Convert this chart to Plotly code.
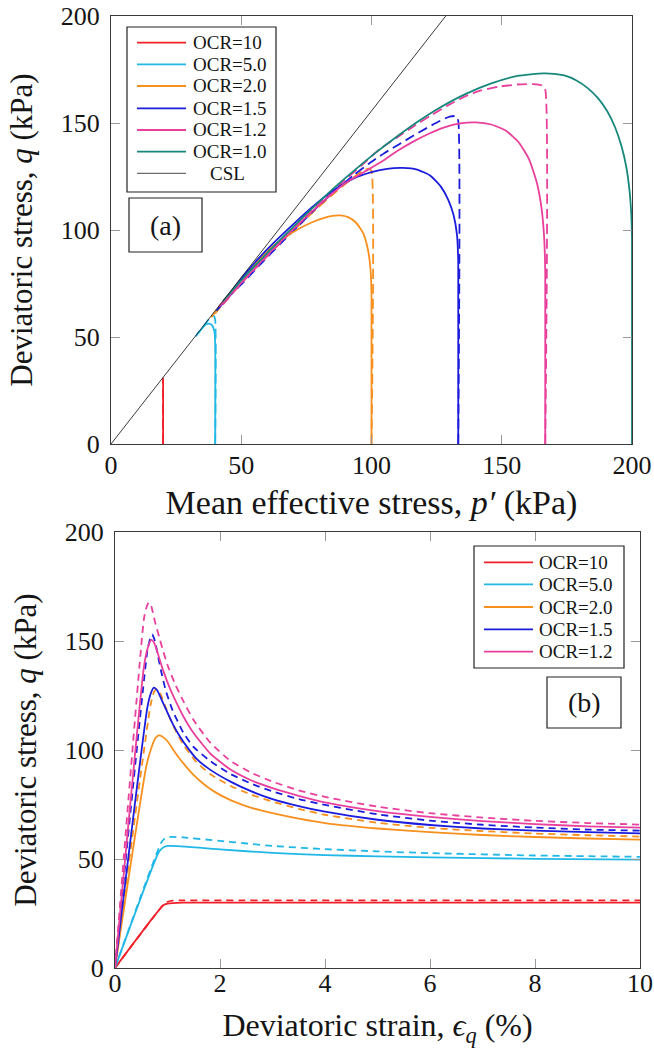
import plotly.graph_objects as go

# ---------------- data: panel (a) stress paths  (p' , q) in kPa ----------------
ocr_labels = ["OCR=10", "OCR=5.0", "OCR=2.0", "OCR=1.5", "OCR=1.2", "OCR=1.0"]
ocr_colors = ["#f0202a", "#21b8e8", "#f7901e", "#1c1cdc", "#e8409c", "#17877b"]

csl_p = [0, 128.5]
csl_q = [0, 200]

a_ocr10_solid_p = [20, 20]
a_ocr10_solid_q = [0, 30]
a_ocr10_dash_p = [20, 20]
a_ocr10_dash_q = [0, 31]

a_ocr5_solid_p = [40, 40, 39.7, 38.9, 37.7, 36.4, 34.5, 32.5]
a_ocr5_solid_q = [0, 47, 52.5, 55.3, 56.2, 55.8, 53.3, 50.2]
a_ocr5_dash_p = [40, 40, 39.5, 38.7, 37, 35, 33]
a_ocr5_dash_q = [0, 58, 59.8, 60, 57.4, 54.3, 51.2]

a_ocr2_solid_p = [100, 100, 99.6, 98.6, 96.8, 94, 91, 88, 85, 81.5, 77, 72, 66, 59, 52, 46, 41.5, 38.5]
a_ocr2_solid_q = [0, 70, 82, 91, 98.5, 103.5, 106, 106.8, 106.6, 105.5, 103.5, 100.5, 96, 89, 79.5, 70.5, 63.8, 59.2]
a_ocr2_dash_p = [100, 100, 99, 96.5, 92, 86, 79, 72, 65, 58, 51, 45, 40]
a_ocr2_dash_q = [0, 127.5, 128.7, 127.5, 123.5, 117.5, 110, 102, 94, 85.5, 76.5, 68.5, 61]

a_ocr15_solid_p = [133.3, 133.3, 132.8, 131.5, 129.5, 126.5, 122.5, 117.5, 112, 106, 100, 93, 86, 79, 72, 65, 58, 51, 45, 40.5]
a_ocr15_solid_q = [0, 85, 98, 107, 114, 120.5, 125.5, 128.2, 129, 128.6, 127, 124, 119, 112.5, 105, 97, 88.5, 78.8, 69.3, 62.3]
a_ocr15_dash_p = [133.3, 133.3, 132.5, 130, 126, 121, 116, 110.5, 105, 99, 93, 86, 79, 72, 65, 58, 51, 45, 41]
a_ocr15_dash_q = [0, 151, 153.2, 153, 150.8, 147.5, 144, 140, 136, 131, 125.5, 118.3, 110.5, 102, 93.5, 84.8, 75.8, 68.5, 63]

a_ocr12_solid_p = [166.7, 166.7, 166.3, 165.3, 163.5, 160.5, 156.5, 151.5, 146, 140, 134, 128, 122, 116, 110, 104, 97, 90, 83, 76, 69, 62, 55, 49, 44, 41.5]
a_ocr12_solid_q = [0, 80, 96, 110, 122, 133, 141, 146.5, 149.3, 150.3, 149.8, 148, 145, 141.3, 137, 132, 127, 122, 115, 107.3, 99.3, 90.8, 82, 74, 67.5, 64.3]
a_ocr12_dash_p = [166.7, 166.7, 165.5, 162, 156, 149, 142, 135.5, 129, 122.5, 116, 109.5, 103, 96, 89, 82, 75, 68, 61, 54, 48, 43]
a_ocr12_dash_q = [0, 165.5, 167.5, 168.2, 168, 167, 165.2, 162.2, 158, 153.3, 148.3, 143, 137.6, 130, 122.5, 114.7, 106.5, 97.8, 89, 80.3, 72.2, 65.2]

a_ocr1_solid_p = [200, 200, 199.7, 199, 197.8, 196, 193.5, 190.5, 187, 183, 178.5, 174, 170, 166, 156, 146, 136, 126, 117, 109, 102, 95, 85, 75, 65, 55, 48, 43]
a_ocr1_solid_q = [0, 96, 108, 119, 129.5, 139, 148, 155.5, 161.5, 166.3, 170, 172.2, 173, 173.2, 172, 168.5, 163.5, 157, 150, 143, 136.5, 129.5, 119, 107.5, 95.5, 83, 73.8, 66.8]

# ---------------- data: panel (b) q vs deviatoric strain (%) ----------------
b_ocr10_solid_e = [0, 0.92, 1.0, 1.1, 1.3, 10]
b_ocr10_solid_q = [0, 28.8, 29.5, 29.8, 30, 30]
b_ocr10_dash_e = [0, 0.95, 1.02, 1.1, 1.3, 10]
b_ocr10_dash_q = [0, 29.7, 30.5, 30.9, 31, 31]

b_ocr5_solid_e = [0, 0.82, 0.9, 1.0, 1.2, 1.6, 2, 3, 4, 5, 6, 8, 10]
b_ocr5_solid_q = [0, 52.5, 55, 56, 55.9, 55.2, 54.4, 52.8, 51.8, 51.2, 50.7, 50.1, 49.7]
b_ocr5_dash_e = [0, 0.88, 0.95, 1.05, 1.3, 2, 3, 4, 5, 6, 8, 10]
b_ocr5_dash_q = [0, 57.5, 59.5, 60.1, 59.9, 58.3, 56, 54.5, 53.5, 52.7, 51.6, 51]

b_ocr2_solid_e = [0, 0.6, 0.7, 0.77, 0.83, 0.9, 1.0, 1.1, 1.2, 1.35, 1.5, 1.7, 1.9, 2.2, 2.6, 3, 3.5, 4, 5, 6, 7, 8, 9, 10]
b_ocr2_solid_q = [0, 93, 101.5, 105.5, 106.7, 106.2, 104, 100.5, 97, 92.5, 88.5, 84.2, 80.8, 77, 73.5, 71, 68.5, 66.5, 64, 62.3, 61, 60.1, 59.4, 58.9]
b_ocr2_dash_e = [0, 0.68, 0.74, 0.79, 0.86, 0.95, 1.1, 1.3, 1.55, 1.81, 2.2, 2.6, 3, 3.5, 4, 5, 6, 7, 8, 9, 10]
b_ocr2_dash_q = [0, 121, 126.5, 128, 126, 120.5, 111.5, 102.5, 94.5, 89, 83.5, 79.5, 76.3, 73, 70.3, 66.6, 64.3, 62.8, 61.7, 60.9, 60.3]

b_ocr15_solid_e = [0, 0.62, 0.69, 0.74, 0.8, 0.88, 0.97, 1.1, 1.23, 1.4, 1.55, 1.81, 2.2, 2.6, 3, 3.5, 4, 5, 6, 7, 8, 9, 10]
b_ocr15_solid_q = [0, 120, 126.5, 128.6, 127.5, 123.5, 118.7, 112, 106.4, 100.5, 96, 91, 85.5, 81, 77.5, 74.3, 71.7, 68, 65.6, 64, 63, 62.3, 61.8]
b_ocr15_dash_e = [0, 0.62, 0.67, 0.71, 0.76, 0.82, 0.88, 0.97, 1.1, 1.3, 1.49, 1.81, 2.2, 2.6, 3, 3.5, 4, 5, 6, 7, 8, 9, 10]
b_ocr15_dash_q = [0, 146, 151, 153, 150, 143, 136, 127, 118, 108, 101.5, 95, 89, 84.5, 81, 77.5, 74.8, 70.5, 67.6, 65.7, 64.4, 63.5, 63]

b_ocr12_solid_e = [0, 0.55, 0.62, 0.69, 0.74, 0.8, 0.91, 1.05, 1.17, 1.3, 1.49, 1.81, 2.2, 2.6, 3, 3.5, 4, 5, 6, 7, 8, 9, 10]
b_ocr12_solid_q = [0, 138, 146.5, 150.5, 149.5, 145.5, 137, 128, 121.7, 115.5, 108, 98.5, 91, 86, 82.5, 79, 76, 72, 69.3, 67.4, 66, 65, 64.4]
b_ocr12_dash_e = [0, 0.55, 0.6, 0.64, 0.69, 0.76, 0.84, 0.91, 1.0, 1.15, 1.3, 1.49, 1.81, 2.2, 2.6, 3, 3.5, 4, 5, 6, 7, 8, 9, 10]
b_ocr12_dash_q = [0, 160, 165.5, 167.7, 166, 159, 152, 146, 139, 130, 122.5, 114, 103.5, 95, 89.5, 85.5, 81.5, 78.5, 74, 71, 69, 67.5, 66.5, 65.8]

a_ticks = [0, 50, 100, 150, 200]
b_xticks = [0, 2, 4, 6, 8, 10]
b_yticks = [0, 50, 100, 150, 200]

a_legend_labels = ocr_labels + ["CSL"]
a_legend_colors = ocr_colors + ["#333333"]
b_legend_labels = ocr_labels[:5]
b_legend_colors = ocr_colors[:5]

# ---------------- figure ----------------
W, H = 654, 1049
SERIF = "Liberation Serif, DejaVu Serif, serif"
TXT = "#151515"


def px_x(x):
    return x / W


def px_y(y):
    return 1 - y / H


fig = go.Figure()

a_solid = [(a_ocr10_solid_p, a_ocr10_solid_q), (a_ocr5_solid_p, a_ocr5_solid_q),
           (a_ocr2_solid_p, a_ocr2_solid_q), (a_ocr15_solid_p, a_ocr15_solid_q),
           (a_ocr12_solid_p, a_ocr12_solid_q), (a_ocr1_solid_p, a_ocr1_solid_q)]
a_dash = [(a_ocr10_dash_p, a_ocr10_dash_q), (a_ocr5_dash_p, a_ocr5_dash_q),
          (a_ocr2_dash_p, a_ocr2_dash_q), (a_ocr15_dash_p, a_ocr15_dash_q),
          (a_ocr12_dash_p, a_ocr12_dash_q)]

for i, (p, q) in enumerate(a_dash):
    fig.add_trace(go.Scatter(x=p, y=q, mode="lines", xaxis="x", yaxis="y",
                             name=ocr_labels[i] + " (dashed)",
                             line=dict(color=ocr_colors[i], width=1.8, dash="10px,5px",
                                       shape="spline", smoothing=0.5),
                             hoverinfo="skip"))
for i, (p, q) in enumerate(a_solid):
    fig.add_trace(go.Scatter(x=p, y=q, mode="lines", xaxis="x", yaxis="y", name=ocr_labels[i],
                             line=dict(color=ocr_colors[i], width=1.8, shape="spline", smoothing=0.5)))
fig.add_trace(go.Scatter(x=csl_p, y=csl_q, mode="lines", xaxis="x", yaxis="y", name="CSL",
                         line=dict(color="#222222", width=0.9)))

b_solid = [(b_ocr10_solid_e, b_ocr10_solid_q), (b_ocr5_solid_e, b_ocr5_solid_q),
           (b_ocr2_solid_e, b_ocr2_solid_q), (b_ocr15_solid_e, b_ocr15_solid_q),
           (b_ocr12_solid_e, b_ocr12_solid_q)]
b_dash = [(b_ocr10_dash_e, b_ocr10_dash_q), (b_ocr5_dash_e, b_ocr5_dash_q),
          (b_ocr2_dash_e, b_ocr2_dash_q), (b_ocr15_dash_e, b_ocr15_dash_q),
          (b_ocr12_dash_e, b_ocr12_dash_q)]

for i, (e, q) in enumerate(b_dash):
    fig.add_trace(go.Scatter(x=e, y=q, mode="lines", xaxis="x2", yaxis="y2",
                             name=ocr_labels[i] + " (dashed)",
                             line=dict(color=ocr_colors[i], width=1.8, dash="7px,5px",
                                       shape="spline", smoothing=0.5),
                             hoverinfo="skip"))
for i, (e, q) in enumerate(b_solid):
    fig.add_trace(go.Scatter(x=e, y=q, mode="lines", xaxis="x2", yaxis="y2", name=ocr_labels[i],
                             line=dict(color=ocr_colors[i], width=1.8, shape="spline", smoothing=0.5)))

axis_common = dict(showline=True, linecolor="#3a3a3a", linewidth=1.3, mirror="ticks",
                   ticks="inside", ticklen=9, tickcolor="#9a9a9a", tickwidth=1,
                   showgrid=False, zeroline=False, automargin=False,
                   ticklabeloverflow="allow",
                   tickfont=dict(family=SERIF, size=26, color=TXT))

shapes = []
annotations = []


def add_legend(box, entries_y, line_x, text_x, labels, colors, center_last=False):
    x0, y0, x1, y1 = box
    shapes.append(dict(type="rect", xref="paper", yref="paper",
                       x0=px_x(x0), x1=px_x(x1), y0=px_y(y1), y1=px_y(y0),
                       line=dict(color="#222222", width=1.2), fillcolor="white", layer="above"))
    for k, (lab, col, yy) in enumerate(zip(labels, colors, entries_y)):
        is_csl = center_last and k == len(labels) - 1
        shapes.append(dict(type="line", xref="paper", yref="paper",
                           x0=px_x(line_x[0]), x1=px_x(line_x[1]), y0=px_y(yy), y1=px_y(yy),
                           line=dict(color=col, width=0.9 if is_csl else 1.8), layer="above"))
        annotations.append(dict(text=lab, xref="paper", yref="paper",
                                x=px_x(text_x[1] if is_csl else text_x[0]), y=px_y(yy),
                                xanchor="center" if is_csl else "left", yanchor="middle",
                                showarrow=False, font=dict(family=SERIF, size=19, color=TXT)))


add_legend((127, 27, 276, 192), [42.7, 64.3, 86, 108.3, 130, 151.7, 173.3],
           (137, 186), (191, 227), a_legend_labels, a_legend_colors, center_last=True)
add_legend((474, 546, 624, 668), [562.3, 584.3, 607, 629.3, 651.6],
           (484, 533), (537, 0), b_legend_labels, b_legend_colors)

# panel tags
for tag, box in (("(a)", (129, 198, 202, 252)), ("(b)", (547, 677, 621, 728))):
    x0, y0, x1, y1 = box
    shapes.append(dict(type="rect", xref="paper", yref="paper",
                       x0=px_x(x0), x1=px_x(x1), y0=px_y(y1), y1=px_y(y0),
                       line=dict(color="#222222", width=1.2), fillcolor="white", layer="above"))
    annotations.append(dict(text=tag, xref="paper", yref="paper",
                            x=px_x((x0 + x1) / 2), y=px_y((y0 + y1) / 2),
                            xanchor="center", yanchor="middle", showarrow=False,
                            font=dict(family=SERIF, size=28, color=TXT)))

fig.update_layout(
    width=W, height=H,
    margin=dict(l=0, r=0, t=0, b=0, autoexpand=False),
    paper_bgcolor="white", plot_bgcolor="white",
    font=dict(family=SERIF, color=TXT),
    showlegend=False,
    xaxis=dict(domain=[px_x(111), px_x(632)], range=[0, 200], tickvals=a_ticks,
               anchor="y", ticklabelstandoff=-2, **axis_common,
               title=dict(text="Mean effective stress, <i>p′</i> (kPa)",
                          font=dict(family=SERIF, size=34, color=TXT), standoff=10)),
    yaxis=dict(domain=[px_y(444), px_y(16)], range=[0, 200], tickvals=a_ticks,
               anchor="x", ticklabelstandoff=5, **axis_common,
               title=dict(text="Deviatoric stress, <i>q</i> (kPa)",
                          font=dict(family=SERIF, size=31, color=TXT), standoff=18)),
    xaxis2=dict(domain=[px_x(115), px_x(640)], range=[0, 10], tickvals=b_xticks,
                anchor="y2", ticklabelstandoff=-8, **axis_common,
                title=dict(text="Deviatoric strain, <i>ϵ</i><sub><i>q</i></sub> (%)",
                           font=dict(family=SERIF, size=32, color=TXT), standoff=16)),
    yaxis2=dict(domain=[px_y(968), px_y(532)], range=[0, 200], tickvals=b_yticks,
                anchor="x2", ticklabelstandoff=5, **axis_common,
                title=dict(text="Deviatoric stress, <i>q</i> (kPa)",
                           font=dict(family=SERIF, size=31, color=TXT), standoff=18)),
    shapes=shapes,
    annotations=annotations,
)

fig.write_html("out.html")
